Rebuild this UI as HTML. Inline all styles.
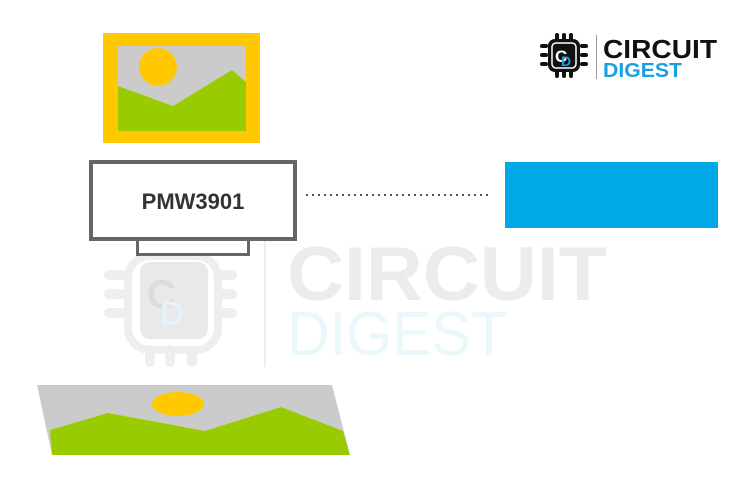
<!DOCTYPE html>
<html><head><meta charset="utf-8"><style>
html,body{margin:0;padding:0;background:#fff;width:750px;height:500px;overflow:hidden}
</style></head><body>
<svg width="750" height="500" viewBox="0 0 750 500" xmlns="http://www.w3.org/2000/svg">
<!-- watermark -->
<g opacity="1">
  <g fill="#eeeeee">
    <rect x="104" y="270" width="22" height="10" rx="5"/><rect x="104" y="289" width="22" height="10" rx="5"/><rect x="104" y="308" width="22" height="10" rx="5"/>
    <rect x="215" y="270" width="22" height="10" rx="5"/><rect x="215" y="289" width="22" height="10" rx="5"/><rect x="215" y="308" width="22" height="10" rx="5"/>
    <rect x="145" y="345" width="10" height="22" rx="5"/><rect x="165" y="345" width="10" height="22" rx="5"/><rect x="187" y="345" width="10" height="22" rx="5"/>
  </g>
  <rect x="128" y="256" width="90" height="94" rx="22" fill="none" stroke="#eeeeee" stroke-width="8"/>
  <rect x="140" y="262" width="68" height="77" rx="10" fill="#e9e9e9"/>
  <text x="147" y="308" font-family="Liberation Sans, sans-serif" font-weight="bold" font-size="40" fill="#dcdcdc">C</text>
  <text x="160" y="325" font-family="Liberation Sans, sans-serif" font-weight="bold" font-size="34" fill="#e3f3f8">D</text>
  <rect x="264" y="232" width="2" height="135" fill="#eeeeee"/>
  <text x="287" y="300" font-family="Liberation Sans, sans-serif" font-weight="bold" font-size="76" fill="#ececec" textLength="320" lengthAdjust="spacingAndGlyphs">CIRCUIT</text>
  <text x="287" y="355" font-family="Liberation Sans, sans-serif" font-size="62" fill="#eaf7fb" textLength="220" lengthAdjust="spacingAndGlyphs">DIGEST</text>
</g>

<!-- top image -->
<rect x="103" y="33" width="157" height="110" fill="#FFC800"/>
<rect x="118" y="46" width="128" height="85" fill="#CBCBCB"/>
<circle cx="158" cy="67" r="19" fill="#FFC800"/>
<polygon points="118,86 173,106 232,70 246,82 246,131 118,131" fill="#99CC00"/>

<!-- sensor box -->
<rect x="137.5" y="239" width="111" height="15.5" fill="#fff" stroke="#666" stroke-width="3"/>
<rect x="91" y="162" width="204" height="77" fill="#fff" stroke="#666" stroke-width="4"/>
<text x="193" y="209" text-anchor="middle" font-family="Liberation Sans, sans-serif" font-weight="bold" font-size="22" fill="#333">PMW3901</text>

<!-- dotted line -->
<line x1="306" y1="195" x2="492" y2="195" stroke="#555" stroke-width="2" stroke-dasharray="2,4"/>

<!-- blue rect -->
<rect x="505" y="162" width="213" height="66" fill="#00A8E8"/>

<!-- bottom parallelogram -->
<polygon points="37,385 332,385 350,455 52,455" fill="#CBCBCB"/>
<ellipse cx="178" cy="404" rx="26" ry="12" fill="#FFC800"/>
<polygon points="50,430 108,413 205,431 281,407 343,431 350,455 52,455" fill="#99CC00"/>

<!-- logo -->
<g fill="#111">
  <rect x="540" y="44" width="8" height="4" rx="2"/><rect x="540" y="53" width="8" height="4" rx="2"/><rect x="540" y="62" width="8" height="4" rx="2"/>
  <rect x="580" y="44" width="8" height="4" rx="2"/><rect x="580" y="53" width="8" height="4" rx="2"/><rect x="580" y="62" width="8" height="4" rx="2"/>
  <rect x="555" y="33" width="4" height="8" rx="2"/><rect x="562" y="33" width="4" height="8" rx="2"/><rect x="569" y="33" width="4" height="8" rx="2"/>
  <rect x="555" y="70" width="4" height="8" rx="2"/><rect x="562" y="70" width="4" height="8" rx="2"/><rect x="569" y="70" width="4" height="8" rx="2"/>
</g>
<rect x="548" y="39" width="32" height="33" rx="7" fill="#111"/>
<rect x="552" y="43" width="24" height="25" rx="4" fill="none" stroke="#fff" stroke-width="1.5"/>
<text x="555" y="62" font-family="Liberation Sans, sans-serif" font-weight="bold" font-size="17" fill="#fff">C</text>
<text x="561" y="66" font-family="Liberation Sans, sans-serif" font-weight="bold" font-size="14" fill="#1BA1E2">D</text>
<rect x="596" y="35" width="1" height="44" fill="#999"/>
<text x="603" y="58" font-family="Liberation Sans, sans-serif" font-weight="bold" font-size="26" fill="#111" textLength="114" lengthAdjust="spacingAndGlyphs">CIRCUIT</text>
<text x="603" y="77" font-family="Liberation Sans, sans-serif" font-weight="bold" font-size="20" fill="#1BA1E2" textLength="79" lengthAdjust="spacingAndGlyphs">DIGEST</text>
</svg>
</body></html>
